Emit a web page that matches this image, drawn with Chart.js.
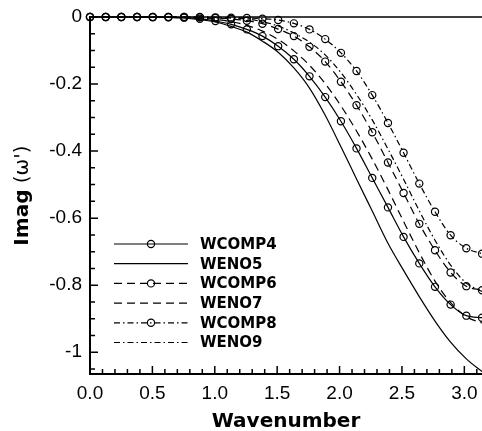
<!DOCTYPE html>
<html>
<head>
<meta charset="utf-8">
<script src="https://cdn.jsdelivr.net/npm/chart.js@4.4.1/dist/chart.umd.min.js"></script>
<style>
  html, body { margin: 0; padding: 0; background: #fff; }
  #wrap { width: 482px; height: 431px; }
</style>
</head>
<body>
<div id="wrap"><canvas id="chart"></canvas></div>
<script>
// wavenumber samples, 0 .. pi
const wavenumbers = [0, 0.126, 0.251, 0.377, 0.503, 0.628, 0.754, 0.880, 1.005, 1.131,
  1.257, 1.382, 1.508, 1.634, 1.759, 1.885, 2.011, 2.136, 2.262, 2.388,
  2.513, 2.639, 2.765, 2.890, 3.016, 3.142];

// imaginary part of the modified wavenumber
const wcomp4 = [0, 0, 0, 0, -0.0005, -0.001, -0.002, -0.005, -0.012, -0.022,
  -0.037, -0.057, -0.087, -0.126, -0.177, -0.239, -0.311, -0.392, -0.480, -0.568,
  -0.656, -0.735, -0.805, -0.858, -0.891, -0.897];
const weno5 = [0, 0, 0, 0, -0.0005, -0.001, -0.003, -0.008, -0.015, -0.028,
  -0.045, -0.072, -0.105, -0.152, -0.212, -0.293, -0.387, -0.483, -0.579, -0.675,
  -0.756, -0.834, -0.907, -0.970, -1.020, -1.058];
const wcomp6 = [0, 0, 0, 0, 0, 0, 0, -0.001, -0.003, -0.006,
  -0.011, -0.020, -0.036, -0.057, -0.089, -0.133, -0.193, -0.263, -0.344, -0.434,
  -0.525, -0.617, -0.696, -0.762, -0.803, -0.815];
const weno7 = [0, 0, 0, 0, 0, 0, -0.001, -0.003, -0.007, -0.014,
  -0.025, -0.042, -0.067, -0.101, -0.144, -0.199, -0.265, -0.340, -0.424, -0.515,
  -0.610, -0.703, -0.788, -0.852, -0.894, -0.913];
const wcomp8 = [0, 0, 0, 0, 0, 0, 0, 0, -0.001, -0.002,
  -0.003, -0.005, -0.009, -0.019, -0.037, -0.066, -0.107, -0.161, -0.233, -0.316,
  -0.405, -0.497, -0.581, -0.651, -0.690, -0.706];
const weno9 = [0, 0, 0, 0, 0, 0, 0, 0, -0.001, -0.003,
  -0.006, -0.014, -0.027, -0.048, -0.075, -0.113, -0.166, -0.231, -0.307, -0.394,
  -0.484, -0.578, -0.666, -0.740, -0.794, -0.819];

const seriesNames = ['WCOMP4', 'WENO5', 'WCOMP6', 'WENO7', 'WCOMP8', 'WENO9'];
const xTicks = [0, 0.5, 1, 1.5, 2, 2.5, 3];
const xTickLabels = ['0.0', '0.5', '1.0', '1.5', '2.0', '2.5', '3.0'];
const yTicks = [0, -0.2, -0.4, -0.6, -0.8, -1];
const yTickLabels = ['0', '-0.2', '-0.4', '-0.6', '-0.8', '-1'];

const DASH = [8, 5];
const DASHDOT = [6, 3, 1.5, 3];

function series(name, values, dash, marks) {
  return {
    label: name,
    data: wavenumbers.map((x, i) => ({ x: x, y: values[i] })),
    borderColor: '#000',
    borderWidth: 1.2,
    borderDash: dash,
    pointRadius: marks ? 3.6 : 0,
    pointBorderWidth: 1.2,
    pointBorderColor: '#000',
    pointBackgroundColor: 'rgba(0,0,0,0)',
    cubicInterpolationMode: 'monotone',
    fill: false,
    clip: false
  };
}

// inward ticks, top line, legend and axis titles
const framePlugin = {
  id: 'frame',
  afterDraw(chart) {
    const ctx = chart.ctx;
    const area = chart.chartArea;
    const xs = chart.scales.x;
    const ys = chart.scales.y;
    ctx.save();
    ctx.strokeStyle = '#000';
    ctx.lineWidth = 1.5;
    ctx.setLineDash([]);

    // line along y = 0
    ctx.beginPath();
    ctx.moveTo(area.left, ys.getPixelForValue(0));
    ctx.lineTo(area.right, ys.getPixelForValue(0));
    ctx.stroke();

    // x ticks every 0.1, longer at 0.5
    ctx.beginPath();
    for (let i = 0; i <= 31; i++) {
      const px = xs.getPixelForValue(i / 10);
      const len = i % 5 === 0 ? 8 : 5;
      ctx.moveTo(px, area.bottom);
      ctx.lineTo(px, area.bottom - len);
    }
    // y ticks every 0.05, longer at 0.2
    for (let i = 0; i <= 21; i++) {
      const py = ys.getPixelForValue(-i * 0.05);
      const len = i % 4 === 0 ? 8 : 5;
      ctx.moveTo(area.left, py);
      ctx.lineTo(area.left + len, py);
    }
    ctx.stroke();

    // legend
    const lx0 = area.left + 24, lx1 = area.left + 98, ly = area.top + 227;
    ctx.font = 'bold 15px "DejaVu Sans"';
    ctx.textBaseline = 'middle';
    ctx.fillStyle = '#000';
    chart.data.datasets.forEach((ds, i) => {
      const y = ly + i * 19.7;
      ctx.lineWidth = 1.2;
      ctx.setLineDash(ds.borderDash || []);
      ctx.beginPath();
      ctx.moveTo(lx0, y);
      ctx.lineTo(lx1, y);
      ctx.stroke();
      ctx.setLineDash([]);
      if (ds.pointRadius > 0) {
        ctx.beginPath();
        ctx.arc((lx0 + lx1) / 2, y, ds.pointRadius, 0, Math.PI * 2);
        ctx.stroke();
      }
      ctx.fillText(ds.label, area.left + 110, y + 1);
    });

    // x title
    ctx.font = 'bold 20px "DejaVu Sans"';
    ctx.textAlign = 'center';
    ctx.textBaseline = 'alphabetic';
    ctx.fillText('Wavenumber', (area.left + area.right) / 2, 427);

    // y title, bold name and plain symbol
    ctx.translate(23, (area.top + area.bottom) / 2);
    ctx.rotate(-Math.PI / 2);
    ctx.textAlign = 'left';
    ctx.textBaseline = 'middle';
    const boldFont = 'bold 20px "DejaVu Sans"';
    const plainFont = '20px "DejaVu Sans"';
    ctx.font = boldFont;
    const w1 = ctx.measureText('Imag').width;
    ctx.font = plainFont;
    const w2 = ctx.measureText(" (\u03c9')").width;
    const start = -(w1 + w2) / 2;
    ctx.font = boldFont;
    ctx.fillText('Imag', start, 0);
    ctx.font = plainFont;
    ctx.fillText(" (\u03c9')", start + w1, 0);
    ctx.restore();
  }
};

const ctx = document.getElementById('chart').getContext('2d');
const chart = new Chart(ctx, {
  type: 'line',
  data: {
    datasets: [
      series(seriesNames[0], wcomp4, [], true),
      series(seriesNames[1], weno5, [], false),
      series(seriesNames[2], wcomp6, DASH, true),
      series(seriesNames[3], weno7, DASH, false),
      series(seriesNames[4], wcomp8, DASHDOT, true),
      series(seriesNames[5], weno9, DASHDOT, false)
    ]
  },
  options: {
    responsive: true,
    maintainAspectRatio: false,
    animation: false,
    devicePixelRatio: 1,
    layout: { autoPadding: false, padding: { top: 17, left: 0, right: 0, bottom: 0 } },
    plugins: { legend: { display: false }, tooltip: { enabled: false } },
    scales: {
      x: {
        type: 'linear',
        min: 0,
        max: 3.1416,
        afterBuildTicks: (scale) => { scale.ticks = xTicks.map(v => ({ value: v })); },
        afterFit: (scale) => {
          scale.height = 57;
          scale.paddingLeft = 0;
          scale.paddingRight = 0;
        },
        grid: { display: false, drawTicks: false },
        border: { display: true, color: '#000', width: 2 },
        ticks: {
          color: '#000',
          padding: 8,
          maxRotation: 0,
          font: { family: '"Liberation Sans", Arial', size: 19 },
          callback: (v) => xTickLabels[xTicks.indexOf(v)]
        }
      },
      y: {
        type: 'linear',
        min: -1.065,
        max: 0,
        afterBuildTicks: (scale) => { scale.ticks = yTicks.map(v => ({ value: v })); },
        afterFit: (scale) => {
          scale.width = 90;
          scale.paddingTop = 0;
          scale.paddingBottom = 0;
        },
        grid: { display: false, drawTicks: false },
        border: { display: true, color: '#000', width: 2 },
        ticks: {
          color: '#000',
          padding: 8,
          font: { family: '"Liberation Sans", Arial', size: 19 },
          callback: (v) => yTickLabels[yTicks.indexOf(v)]
        }
      }
    }
  },
  plugins: [framePlugin]
});
</script>
</body>
</html>
